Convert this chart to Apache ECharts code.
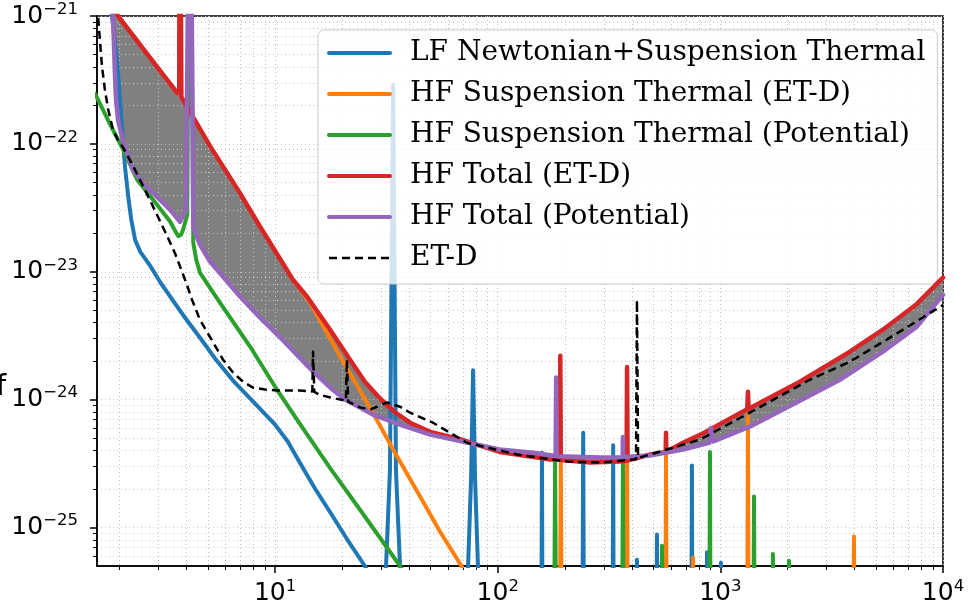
<!DOCTYPE html>
<html>
<head>
<meta charset="utf-8">
<script src="https://cdn.jsdelivr.net/npm/echarts@6/dist/echarts.min.js"></script>
<style>
  html, body { margin: 0; padding: 0; background: #fff; }
  #chart { width: 971px; height: 606px; }
</style>
</head>
<body>
<div id="chart"></div>
<script>
// ===============================
// Donnees (f en Hz, ASD en 1/sqrt(Hz))
// ===============================
const freqMin = 1.585;
const freqMax = 10000;
const asdMin = 5.0e-26;
const asdMax = 1e-21;

const freqMajorTicks = [10, 100, 1000, 10000];
const freqMinorTicks = [2, 3, 4, 5, 6, 7, 8, 9, 20, 30, 40, 50, 60, 70, 80, 90,
    200, 300, 400, 500, 600, 700, 800, 900, 2000, 3000, 4000, 5000, 6000, 7000, 8000, 9000];
const asdMajorTicks = [1e-25, 1e-24, 1e-23, 1e-22, 1e-21];
const asdMinorTicks = [6e-26, 7e-26, 8e-26, 9e-26,
    2e-25, 3e-25, 4e-25, 5e-25, 6e-25, 7e-25, 8e-25, 9e-25,
    2e-24, 3e-24, 4e-24, 5e-24, 6e-24, 7e-24, 8e-24, 9e-24,
    2e-23, 3e-23, 4e-23, 5e-23, 6e-23, 7e-23, 8e-23, 9e-23,
    2e-22, 3e-22, 4e-22, 5e-22, 6e-22, 7e-22, 8e-22, 9e-22];

const seriesNames = [
    "LF Newtonian+Suspension Thermal",
    "HF Suspension Thermal (ET-D)",
    "HF Suspension Thermal (Potential)",
    "HF Total (ET-D)",
    "HF Total (Potential)",
    "ET-D"
];

const lfNewtonian = [
    [1.82, 1.9e-21], [1.85, 1.0e-21], [1.95, 4.5e-22], [2.01, 2.21e-22], [2.06, 1.22e-22],
    [2.12, 6.49e-23], [2.19, 3.85e-23], [2.26, 2.55e-23], [2.35, 1.78e-23], [2.48, 1.43e-23],
    [2.75, 1.11e-23], [3.04, 8.35e-24], [3.38, 6.38e-24], [3.94, 4.37e-24], [4.60, 3.05e-24],
    [5.38, 2.09e-24], [6.47, 1.41e-24], [8.13, 9.3e-25], [10.0, 6.38e-25], [11.4, 4.7e-25],
    [12.9, 3.22e-25], [15.1, 2.02e-25], [17.7, 1.31e-25], [21.1, 8.05e-26], [25.3, 5.0e-26],
    [29.6, 3.0e-26], [31.5, 5.0e-26], [32.8, 2.8e-25], [33.9, 2.9e-22], [34.9, 2.8e-25],
    [36.4, 5.0e-26], [40, 1e-26], [69, 1e-26], [73.6, 5.0e-26], [75.9, 2.4e-25],
    [77.5, 1.7e-24], [79.1, 2.4e-25], [81.5, 5.0e-26], [86, 1e-26],
    [157, 1e-26], [158, 3.85e-25], [159, 1e-26],
    [240, 1e-26], [242, 5.5e-25], [244, 1e-26],
    [328, 1e-26], [330, 4.4e-25], [332, 1e-26],
    [419, 1e-26], [422, 5.6e-26], [425, 1e-26],
    [516, 1e-26], [519, 8.8e-26], [522, 1e-26],
    [741, 1e-26], [745, 3.05e-25], [749, 1e-26],
    [866, 1e-26], [871, 6.4e-26], [876, 1e-26],
    [1000, 1e-26], [1006, 5.3e-26], [1012, 1e-26],
    [10000, 1e-26]
];

const hfSuspEtd = [
    [1.64, 1.51e-21], [1.97, 1.0e-21], [2.75, 4.69e-22], [3.38, 2.94e-22], [3.63, 2.5e-22],
    [3.71, 2.55e-22], [3.74, 1e-19], [3.79, 2.33e-22], [3.86, 2.25e-22], [5.10, 9.6e-23],
    [6.96, 4.1e-23], [8.56, 2.25e-23], [12.0, 8.7e-24], [14.4, 5.7e-24], [19.6, 2.17e-24],
    [27.5, 7.9e-25], [33.9, 4.07e-25], [44.8, 1.75e-25], [55.0, 9.3e-26], [69.2, 4.9e-26],
    [83, 2.7e-26], [100, 1e-26],
    [190, 1e-26], [192, 3.3e-25], [194, 1e-26],
    [378, 1e-26], [381, 3.3e-25], [384, 1e-26],
    [566, 1e-26], [570, 3.7e-25], [574, 1e-26],
    [749, 1e-26], [754, 5.8e-26], [759, 1e-26],
    [1320, 1e-26], [1330, 7.6e-25], [1340, 1e-26],
    [3950, 1e-26], [3981, 8.5e-26], [4010, 1e-26],
    [10000, 1e-26]
];

const hfSuspPotential = [
    [1.555, 2.46e-22], [1.82, 1.41e-22], [2.08, 8.98e-23], [2.40, 5.24e-23], [2.95, 3.34e-23],
    [3.38, 2.46e-23], [3.55, 2.1e-23], [3.67, 1.9e-23], [3.78, 1.95e-23], [3.86, 2.13e-23],
    [4.03, 2.79e-23], [4.15, 1e-19], [4.29, 1.69e-23], [4.42, 1.25e-23], [4.60, 9.8e-24],
    [5.66, 5.7e-24], [7.72, 2.6e-24], [10.0, 1.26e-24], [12.9, 6.5e-25], [17.7, 2.9e-25],
    [25.3, 1.22e-25], [36.4, 5.0e-26], [44.8, 2.7e-26], [60, 1e-26],
    [179, 1e-26], [181, 3.3e-25], [183, 1e-26],
    [362, 1e-26], [365, 3.3e-25], [368, 1e-26],
    [543, 1e-26], [547, 7.2e-26], [551, 1e-26],
    [892, 1e-26], [898, 3.9e-25], [904, 1e-26],
    [1406, 1e-26], [1416, 1.75e-25], [1426, 1e-26],
    [1710, 1e-26], [1722, 6.2e-26], [1734, 1e-26],
    [2019, 1e-26], [2033, 5.5e-26], [2047, 1e-26],
    [10000, 1e-26]
];

const hfTotalEtd = [
    [1.64, 1.51e-21], [1.97, 1.0e-21], [2.75, 4.69e-22], [3.38, 2.94e-22], [3.63, 2.5e-22],
    [3.71, 2.55e-22], [3.74, 1e-19], [3.79, 2.33e-22], [3.86, 2.25e-22], [5.10, 9.6e-23],
    [6.96, 4.1e-23], [8.56, 2.25e-23], [12.0, 8.7e-24], [13.9, 6.4e-24], [17.7, 3.5e-24],
    [21.7, 2.05e-24], [25.3, 1.38e-24], [29.6, 1.02e-24], [34.6, 7.94e-25], [40.4, 6.6e-25],
    [49.7, 5.6e-25], [67.7, 4.9e-25], [102, 3.9e-25], [172, 3.4e-25],
    [190, 3.38e-25], [191, 2.2e-24], [192, 3.37e-25],
    [260, 3.22e-25], [354, 3.28e-25],
    [379, 3.33e-25], [381, 1.8e-24], [383, 3.34e-25],
    [483, 3.72e-25],
    [568, 3.9e-25], [570, 5.5e-25], [572, 3.92e-25],
    [679, 4.6e-25], [810, 5.3e-25],
    [1320, 8.4e-25], [1330, 1.15e-24], [1340, 8.5e-25],
    [2275, 1.38e-24], [3820, 2.37e-24], [5370, 3.52e-24], [7630, 5.6e-24], [10000, 9.0e-24]
];

const hfTotalPotential = [
    [1.82, 1.9e-21], [1.87, 1.0e-21], [1.91, 3.34e-22], [1.93, 2.21e-22], [1.97, 1.54e-22],
    [2.08, 1.02e-22], [2.19, 7.94e-23], [2.30, 6.26e-23], [2.61, 4.69e-23], [2.95, 3.85e-23],
    [3.38, 3.05e-23], [3.74, 2.46e-23], [3.98, 3.05e-23], [4.15, 1e-19], [4.29, 2.21e-23],
    [4.60, 1.63e-23], [5.10, 1.2e-23], [6.96, 6.4e-24], [8.56, 4.37e-24], [10.9, 2.89e-24],
    [12.9, 2.13e-24], [14.8, 1.66e-24], [17.7, 1.24e-24], [20.6, 1.0e-24], [27.5, 7.64e-25],
    [36.4, 6.38e-25], [49.7, 5.33e-25], [72.8, 4.61e-25], [102, 4.07e-25], [144, 3.85e-25],
    [182, 3.62e-25], [183, 1.49e-24], [184, 3.61e-25],
    [205, 3.59e-25], [288, 3.52e-25],
    [364, 3.55e-25], [365, 5.1e-25], [366, 3.56e-25],
    [483, 3.65e-25], [679, 4.07e-25],
    [890, 4.6e-25], [907, 6.0e-25], [924, 4.7e-25],
    [1354, 6.15e-25], [2275, 9.8e-25], [3443, 1.43e-24], [5370, 2.37e-24], [7630, 3.72e-24],
    [10000, 6.6e-24]
];

const etD = [
    [1.59, 1.22e-21], [1.62, 7.8e-22], [1.64, 5.9e-22], [1.67, 4.0e-22], [1.72, 2.64e-22],
    [1.78, 1.85e-22], [1.87, 1.29e-22], [1.97, 1.07e-22], [2.08, 9.3e-23], [2.30, 6.73e-23],
    [2.55, 4.69e-23], [2.89, 3.0e-23], [3.27, 1.91e-23], [3.56, 1.38e-23], [3.82, 1.0e-23],
    [4.06, 7.5e-24], [4.24, 6.0e-24], [4.60, 4.2e-24], [5.27, 2.8e-24], [5.84, 2.05e-24],
    [6.47, 1.63e-24], [7.18, 1.38e-24], [7.96, 1.24e-24], [9.02, 1.2e-24], [10.2, 1.18e-24],
    [12.9, 1.18e-24], [14.7, 1.16e-24], [14.8, 2.37e-24], [15.0, 1.15e-24], [15.9, 1.09e-24],
    [17.7, 1.04e-24], [20.8, 9.8e-25], [21.0, 2.05e-24], [21.3, 9.65e-25], [24.1, 8.7e-25],
    [26.7, 8.35e-25], [31.8, 9.5e-25], [36.4, 8.8e-25], [40.4, 7.9e-25], [51.2, 6.6e-25],
    [72.8, 4.6e-25], [122, 3.72e-25], [205, 3.28e-25], [288, 3.22e-25], [405, 3.4e-25],
    [418, 3.42e-25], [422, 6.0e-24], [427, 3.5e-25], [575, 4.07e-25], [810, 4.87e-25],
    [1354, 7.9e-25], [2522, 1.43e-24], [3820, 1.98e-24], [6400, 3.4e-24], [10000, 5.5e-24]
];

document.addEventListener("DOMContentLoaded", () => {
    const chart = echarts.init(document.getElementById("chart"));

    // L'axe log d'ECharts arrondit les tres petites valeurs : on trace en unites de 1e-26
    const echelleY = 1e26;
    const decalageExp = 26;
    const versEchelle = v => Number((v * echelleY).toPrecision(8));
    const enEchelle = serie => serie.map(p => [p[0], versEchelle(p[1])]);

    const rouge = enEchelle(hfTotalEtd);
    const violet = enEchelle(hfTotalPotential);

    // Etiquettes 10^n en exposant
    function formatPuissance(value, decalage) {
        const exp = Math.round(Math.log10(value)) - decalage;
        const txt = exp < 0 ? "\u2212" + (-exp) : String(exp);
        return "{b|10}{s|" + txt + "}";
    }
    const richPuissance = {
        b: { fontFamily: "DejaVu Sans", fontSize: 25, lineHeight: 30, color: "#000" },
        s: { fontFamily: "DejaVu Sans", fontSize: 16.5, lineHeight: 14, verticalAlign: "top", color: "#000" }
    };
    const grille = { show: true, lineStyle: { color: "#c4c4c4", width: 1, type: [1, 3] } };

    function ligne(name, data, color, width, z, dashed) {
        return {
            name: name,
            type: "line",
            data: enEchelle(data),
            showSymbol: false,
            symbol: "none",
            smooth: false,
            silent: true,
            z: z,
            color: color,
            lineStyle: { color: color, width: width, type: dashed ? [8, 5] : "solid", join: "round", cap: dashed ? "butt" : "round" }
        };
    }

    chart.setOption({
        animation: false,
        backgroundColor: "#fff",
        grid: { left: 97, right: 28, top: 16, bottom: 40, show: true, borderColor: "#000", borderWidth: 1.5, backgroundColor: "transparent" },
        xAxis: [
            {
                type: "log", position: "bottom", min: freqMin, max: freqMax, z: 1,
                axisLine: { show: true, lineStyle: { color: "#000", width: 1.5 } },
                axisTick: { show: true, length: 7, lineStyle: { color: "#000", width: 1.5 }, customValues: freqMajorTicks },
                axisLabel: { customValues: freqMajorTicks, margin: 12, formatter: v => formatPuissance(v, 0), rich: richPuissance },
                splitLine: grille
            },
            {
                type: "log", position: "bottom", min: freqMin, max: freqMax, z: 1,
                axisLine: { show: false },
                axisTick: { show: true, length: 4, lineStyle: { color: "#000", width: 1 }, customValues: freqMinorTicks },
                axisLabel: { show: false },
                splitLine: grille
            }
        ],
        yAxis: [
            {
                type: "log", position: "left", min: versEchelle(asdMin), max: versEchelle(asdMax), z: 1,
                axisLine: { show: true, lineStyle: { color: "#000", width: 1.5 } },
                axisTick: { show: true, length: 7, lineStyle: { color: "#000", width: 1.5 }, customValues: asdMajorTicks.map(versEchelle) },
                axisLabel: { customValues: asdMajorTicks.map(versEchelle), margin: 19, formatter: v => formatPuissance(v, decalageExp), rich: richPuissance },
                splitLine: grille
            },
            {
                type: "log", position: "left", min: versEchelle(asdMin), max: versEchelle(asdMax), z: 1,
                axisLine: { show: false },
                axisTick: { show: true, length: 4, lineStyle: { color: "#000", width: 1 }, customValues: asdMinorTicks.map(versEchelle) },
                axisLabel: { show: false },
                splitLine: grille
            }
        ],
        legend: {
            data: seriesNames.map((n, i) => ({ name: n, lineStyle: { width: i === 5 ? 2.5 : 4 } })),
            orient: "vertical",
            left: 318,
            top: 30,
            padding: [7, 12, 10, 9],
            itemGap: 9,
            itemWidth: 61,
            itemHeight: 14,
            selectedMode: false,
            itemStyle: { opacity: 0 },
            backgroundColor: "rgba(255,255,255,0.8)",
            borderColor: "#cccccc",
            borderWidth: 1,
            borderRadius: 6,
            textStyle: { fontFamily: "DejaVu Serif", fontSize: 28, lineHeight: 32, color: "#000", padding: [0, 0, 0, 15] }
        },
        graphic: [
            { type: "text", x: -4, y: 387, style: { text: "f", font: "29px 'DejaVu Sans'", fill: "#000", verticalAlign: "middle" } }
        ],
        series: [
            // zone grise entre les deux totaux (sous la grille)
            {
                type: "custom",
                name: "zone",
                coordinateSystem: "cartesian2d",
                silent: true,
                z: 0,
                clip: true,
                data: [[10, 1000]],
                renderItem: (params, api) => {
                    const haut = rouge.map(p => api.coord(p));
                    const bas = violet.slice().reverse().map(p => api.coord(p));
                    const cs = params.coordSys;
                    return {
                        type: "polygon",
                        shape: { points: haut.concat(bas) },
                        style: { fill: "#808080" },
                        clipPath: { type: "rect", shape: { x: cs.x, y: cs.y, width: cs.width, height: cs.height } }
                    };
                }
            },
            ligne(seriesNames[0], lfNewtonian, "#1f77b4", 4, 2, false),
            ligne(seriesNames[1], hfSuspEtd, "#ff7f0e", 4, 3, false),
            ligne(seriesNames[2], hfSuspPotential, "#2ca02c", 4, 4, false),
            ligne(seriesNames[3], hfTotalEtd, "#d62728", 4.5, 5, false),
            ligne(seriesNames[4], hfTotalPotential, "#9467bd", 4.5, 6, false),
            ligne(seriesNames[5], etD, "#000000", 2.5, 7, true)
        ]
    });

    window.addEventListener("resize", () => chart.resize());
});
</script>
</body>
</html>
